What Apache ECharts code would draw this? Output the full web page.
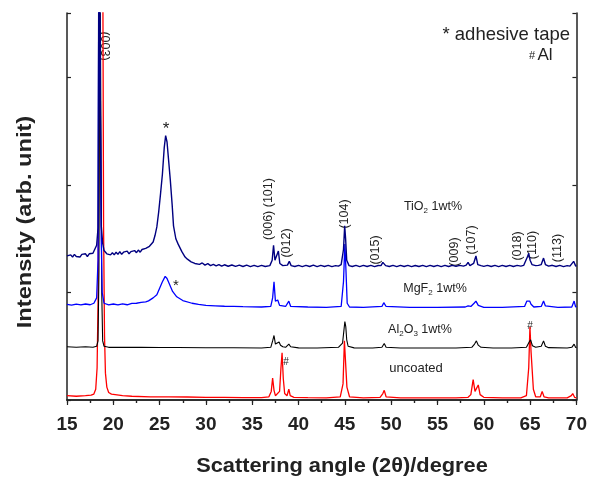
<!DOCTYPE html>
<html>
<head>
<meta charset="utf-8">
<script src="https://cdn.jsdelivr.net/npm/echarts@6/dist/echarts.min.js"></script>
<style>
  html, body { margin: 0; padding: 0; background: #fff; }
  #main { width: 590px; height: 479px; }
</style>
</head>
<body>
<div id="main"></div>
<script>
// XRD patterns, [2theta, intensity (offset, arb. unit)]
var uncoated = [[15,0.04],[16,0.035],[17,0.04],[17.6,0.045],[17.9,0.055],[18.1,0.1],[18.25,0.3],[18.35,0.9],[18.45,2.4],[18.55,4.5],[18.85,4.5],[18.95,1.6],[19.05,0.6],[19.15,0.25],[19.3,0.12],[19.5,0.07],[19.8,0.055],[20,0.05],[21,0.04],[22,0.035],[24,0.03],[26,0.03],[28,0.028],[30,0.025],[32,0.025],[34,0.022],[36,0.022],[36.8,0.03],[37.05,0.08],[37.2,0.205],[37.35,0.09],[37.5,0.04],[37.7,0.035],[37.95,0.08],[38.1,0.3],[38.22,0.44],[38.35,0.2],[38.5,0.06],[38.75,0.04],[38.95,0.1],[39.1,0.04],[39.5,0.025],[41,0.022],[43,0.02],[44.5,0.03],[44.8,0.15],[44.95,0.55],[45.08,0.56],[45.22,0.12],[45.5,0.03],[47,0.02],[48.8,0.025],[49.1,0.06],[49.25,0.09],[49.45,0.03],[51,0.02],[53,0.02],[55,0.02],[57,0.02],[58.3,0.025],[58.6,0.05],[58.85,0.19],[59.05,0.08],[59.25,0.09],[59.4,0.14],[59.6,0.05],[60,0.025],[62,0.02],[64,0.02],[64.6,0.04],[64.85,0.3],[64.98,0.68],[65.1,0.45],[65.22,0.44],[65.35,0.1],[65.6,0.03],[66.1,0.03],[66.3,0.08],[66.5,0.03],[67,0.02],[69,0.02],[69.45,0.04],[69.6,0.06],[69.8,0.025],[70,0.02]];

var al2o3 = [[15,0.495],[16,0.49],[17,0.495],[17.8,0.49],[18.2,0.5],[18.35,0.55],[18.45,1.2],[18.55,4.5],[18.65,4.5],[18.75,1.0],[18.85,0.55],[19,0.5],[19.5,0.49],[21,0.49],[23,0.49],[25,0.488],[27,0.488],[30,0.486],[33,0.486],[36,0.484],[37,0.49],[37.2,0.55],[37.35,0.6],[37.5,0.52],[37.7,0.51],[37.9,0.54],[38.05,0.51],[38.3,0.495],[38.6,0.49],[38.95,0.52],[39.15,0.495],[40,0.485],[42,0.484],[44.3,0.49],[44.75,0.53],[44.9,0.65],[45,0.73],[45.1,0.68],[45.2,0.56],[45.35,0.5],[46,0.485],[48,0.484],[49,0.49],[49.25,0.525],[49.45,0.49],[51,0.484],[54,0.484],[57,0.484],[58.7,0.49],[59,0.52],[59.2,0.55],[59.4,0.51],[59.7,0.49],[61,0.484],[63,0.484],[64.6,0.49],[64.9,0.54],[65.05,0.56],[65.25,0.505],[65.6,0.49],[66.2,0.5],[66.45,0.55],[66.65,0.5],[67,0.487],[69,0.484],[69.5,0.49],[69.75,0.52],[69.9,0.49],[70,0.485]];

var mgf2 = [[15,0.89],[15.5,0.882],[16,0.892],[16.5,0.884],[17,0.893],[17.5,0.886],[17.9,0.9],[18.2,0.95],[18.35,1.3],[18.45,4.5],[18.6,4.5],[18.7,1.5],[18.8,1.0],[19,0.9],[19.5,0.885],[20,0.893],[20.5,0.884],[21,0.894],[21.5,0.886],[22,0.898],[22.5,0.9],[23,0.908],[23.5,0.912],[23.8,0.922],[24.3,0.95],[24.7,0.98],[25,1.04],[25.3,1.1],[25.6,1.15],[25.8,1.13],[26.1,1.07],[26.4,1.01],[26.85,0.96],[27.5,0.925],[28.5,0.9],[29.2,0.89],[30,0.88],[31,0.876],[32,0.872],[33,0.87],[34,0.868],[35,0.867],[36,0.865],[37,0.87],[37.2,0.95],[37.35,1.1],[37.5,0.92],[37.75,0.93],[37.95,0.88],[38.6,0.87],[38.95,0.92],[39.15,0.87],[41,0.865],[43,0.862],[44.6,0.87],[44.85,1.1],[45,1.45],[45.12,1.2],[45.25,0.9],[45.5,0.865],[47,0.862],[49,0.87],[49.2,0.905],[49.45,0.87],[52,0.862],[55,0.862],[58,0.865],[58.3,0.875],[58.6,0.87],[58.95,0.9],[59.15,0.92],[59.4,0.88],[60,0.862],[62,0.862],[64.4,0.87],[64.65,0.92],[64.8,0.93],[64.95,0.92],[65.1,0.89],[65.4,0.865],[66.2,0.87],[66.45,0.92],[66.65,0.875],[68,0.862],[69.5,0.865],[69.75,0.92],[69.9,0.87],[70,0.862]];

var tio2 = [[15,1.34],[15.2,1.325],[15.4,1.35],[15.6,1.33],[15.8,1.355],[16,1.335],[16.2,1.35],[16.4,1.33],[16.6,1.355],[16.8,1.34],[17,1.36],[17.2,1.335],[17.4,1.36],[17.6,1.345],[17.8,1.365],[18,1.38],[18.2,1.44],[18.35,1.6],[18.45,4.5],[18.6,4.5],[18.7,1.62],[18.85,1.46],[19,1.39],[19.3,1.36],[19.5,1.375],[19.7,1.35],[19.9,1.37],[20.1,1.35],[20.3,1.375],[20.5,1.355],[20.7,1.38],[20.9,1.355],[21.1,1.375],[21.3,1.36],[21.5,1.385],[21.7,1.36],[21.9,1.38],[22.1,1.365],[22.3,1.39],[22.5,1.37],[22.7,1.395],[22.9,1.375],[23.1,1.4],[23.3,1.385],[23.5,1.41],[23.7,1.42],[23.9,1.43],[24.1,1.445],[24.3,1.47],[24.5,1.53],[24.7,1.61],[24.9,1.75],[25.1,1.92],[25.3,2.1],[25.5,2.35],[25.65,2.46],[25.8,2.4],[25.95,2.25],[26.15,2.05],[26.35,1.82],[26.5,1.62],[26.75,1.5],[27,1.45],[27.4,1.38],[27.75,1.33],[28,1.31],[28.2,1.3],[28.4,1.285],[28.6,1.29],[28.8,1.27],[29,1.28],[29.3,1.262],[29.6,1.275],[29.9,1.255],[30.2,1.268],[30.5,1.25],[30.8,1.262],[31.1,1.248],[31.4,1.26],[31.7,1.245],[32,1.258],[32.4,1.244],[32.8,1.256],[33.2,1.243],[33.6,1.255],[34,1.242],[34.4,1.254],[34.8,1.241],[35.2,1.253],[35.6,1.24],[36,1.252],[36.4,1.242],[36.9,1.25],[37.15,1.3],[37.3,1.44],[37.45,1.3],[37.65,1.3],[37.82,1.386],[37.98,1.27],[38.3,1.25],[38.8,1.255],[39,1.29],[39.2,1.25],[39.6,1.242],[40,1.252],[40.4,1.241],[40.8,1.253],[41.2,1.242],[41.6,1.254],[42,1.241],[42.4,1.252],[42.8,1.242],[43.2,1.253],[43.6,1.241],[44,1.25],[44.3,1.245],[44.6,1.26],[44.85,1.4],[44.98,1.62],[45.08,1.5],[45.2,1.3],[45.45,1.25],[45.8,1.242],[46.2,1.253],[46.6,1.241],[47,1.252],[47.4,1.242],[47.8,1.253],[48.2,1.241],[48.6,1.251],[48.9,1.25],[49.1,1.28],[49.2,1.29],[49.4,1.25],[49.8,1.242],[50.2,1.252],[50.6,1.241],[51,1.253],[51.4,1.242],[51.8,1.252],[52.2,1.24],[52.6,1.251],[53,1.242],[53.4,1.253],[53.8,1.241],[54.2,1.252],[54.6,1.242],[55,1.253],[55.4,1.241],[55.8,1.252],[56.2,1.242],[56.6,1.253],[57,1.243],[57.4,1.252],[57.8,1.245],[58.1,1.255],[58.3,1.28],[58.5,1.25],[58.9,1.27],[59.15,1.34],[59.35,1.26],[59.7,1.25],[60,1.243],[60.4,1.253],[60.8,1.242],[61.2,1.252],[61.6,1.241],[62,1.252],[62.4,1.242],[62.8,1.253],[63.2,1.242],[63.6,1.252],[64,1.245],[64.3,1.252],[64.5,1.26],[64.75,1.34],[64.85,1.365],[65,1.3],[65.2,1.26],[65.6,1.25],[65.9,1.252],[66.2,1.26],[66.45,1.32],[66.65,1.26],[67,1.245],[67.4,1.253],[67.8,1.242],[68.2,1.252],[68.6,1.241],[69,1.25],[69.3,1.245],[69.5,1.25],[69.7,1.29],[69.9,1.25],[70,1.243]];

var xMin = 15, xMax = 70, xStep = 5;
var yMin = 0, yMax = 3.6, yStep = 1;

var FONT = '"Liberation Sans", Arial, sans-serif';
var AXIS_COLOR = '#222';

function hkl(text, x, y, rot) {
  return {
    type: 'text', x: x, y: y, rotation: rot === undefined ? Math.PI / 2 : rot,
    style: { text: text, font: '12.5px ' + FONT, fill: '#222', align: 'center', verticalAlign: 'middle' }
  };
}
function note(text, x, y, size, rich) {
  return {
    type: 'text', x: x, y: y,
    style: {
      text: text, fontFamily: FONT, fontSize: size || 12.5, fill: '#222',
      align: 'center', verticalAlign: 'middle',
      rich: rich || {}
    }
  };
}
var subRich = { s: { fontFamily: FONT, fontSize: 8, fill: '#222', padding: [7, 0, 0, 0] } };

var myChart = echarts.init(document.getElementById('main'));

myChart.setOption({
  animation: false,
  backgroundColor: '#fff',
  grid: { left: 67, right: 13, top: 13, bottom: 79 },
  xAxis: [
    {
      type: 'value', min: xMin, max: xMax, interval: xStep, position: 'bottom',
      axisLine: { lineStyle: { color: AXIS_COLOR, width: 1.5 } },
      axisTick: { inside: false, length: 5, lineStyle: { color: AXIS_COLOR, width: 1.2 } },
      minorTick: { show: true, splitNumber: 2, length: 3, lineStyle: { color: AXIS_COLOR, width: 1.2 } },
      axisLabel: { color: '#222', fontFamily: FONT, fontSize: 19, fontWeight: 'bold', margin: 15 },
      splitLine: { show: false }
    },
    {
      type: 'value', min: xMin, max: xMax, interval: xStep, position: 'top',
      axisLine: { lineStyle: { color: AXIS_COLOR, width: 1.5 } },
      axisTick: { inside: true, length: 3, lineStyle: { color: AXIS_COLOR, width: 1.2 } },
      minorTick: { show: true, splitNumber: 2, length: 3, lineStyle: { color: AXIS_COLOR, width: 1.2 } },
      axisLabel: { show: false },
      splitLine: { show: false }
    }
  ],
  yAxis: [
    {
      type: 'value', min: yMin, max: yMax, interval: yStep, position: 'left',
      axisLine: { show: true, lineStyle: { color: AXIS_COLOR, width: 1.5 } },
      axisTick: { show: true, inside: true, length: 4, lineStyle: { color: AXIS_COLOR, width: 1.2 } },
      axisLabel: { show: false },
      splitLine: { show: false }
    },
    {
      type: 'value', min: yMin, max: yMax, interval: yStep, position: 'right',
      axisLine: { show: true, lineStyle: { color: AXIS_COLOR, width: 1.5 } },
      axisTick: { show: true, inside: true, length: 4, lineStyle: { color: AXIS_COLOR, width: 1.2 } },
      axisLabel: { show: false },
      splitLine: { show: false }
    }
  ],
  series: [
    { name: 'uncoated', type: 'line', data: uncoated, showSymbol: false, lineStyle: { color: '#ff0000', width: 1.3 }, z: 2 },
    { name: 'Al2O3 1wt%', type: 'line', data: al2o3, showSymbol: false, lineStyle: { color: '#000000', width: 1.1 }, z: 3 },
    { name: 'MgF2 1wt%', type: 'line', data: mgf2, showSymbol: false, lineStyle: { color: '#0000ff', width: 1.3 }, z: 4 },
    { name: 'TiO2 1wt%', type: 'line', data: tio2, showSymbol: false, lineStyle: { color: '#000080', width: 1.4 }, z: 5 }
  ],
  graphic: [
    // axis names
    { type: 'text', x: 342, y: 466, scaleX: 1.09, style: { text: 'Scattering angle (2\u03b8)/degree', font: 'bold 20px ' + FONT, fill: '#222', align: 'center', verticalAlign: 'middle' } },
    { type: 'text', x: 25, y: 222, rotation: Math.PI / 2, scaleX: 1.18, style: { text: 'Intensity (arb. unit)', font: 'bold 20px ' + FONT, fill: '#222', align: 'center', verticalAlign: 'middle' } },
    // legend notes
    { type: 'text', x: 570, y: 35, style: { text: '* adhesive tape', font: '18.5px ' + FONT, fill: '#222', align: 'right', verticalAlign: 'middle' } },
    { type: 'text', x: 532, y: 56, style: { text: '#', font: '11px ' + FONT, fill: '#222', align: 'center', verticalAlign: 'middle' } },
    { type: 'text', x: 545, y: 55, style: { text: 'Al', font: '17px ' + FONT, fill: '#222', align: 'center', verticalAlign: 'middle' } },
    // peak indices
    hkl('(003)', 104, 46, -Math.PI / 2),
    hkl('(006) (101)', 269, 209),
    hkl('(012)', 287, 243),
    hkl('(104)', 345, 214),
    hkl('(015)', 376, 250),
    hkl('(009)', 455, 252),
    hkl('(107)', 472, 240),
    hkl('(018)', 518, 246),
    hkl('(110)', 533, 245),
    hkl('(113)', 558, 248),
    // markers
    note('*', 166, 129, 17),
    note('*', 176, 286, 15),
    note('#', 286, 362, 10),
    note('#', 530, 326, 10),
    // sample names
    note('TiO{s|2} 1wt%', 433, 207, 12.5, subRich),
    note('MgF{s|2} 1wt%', 435, 289, 12.5, subRich),
    note('Al{s|2}O{s|3} 1wt%', 420, 330, 12.5, subRich),
    note('uncoated', 416, 368, 13)
  ]
});
</script>
</body>
</html>
